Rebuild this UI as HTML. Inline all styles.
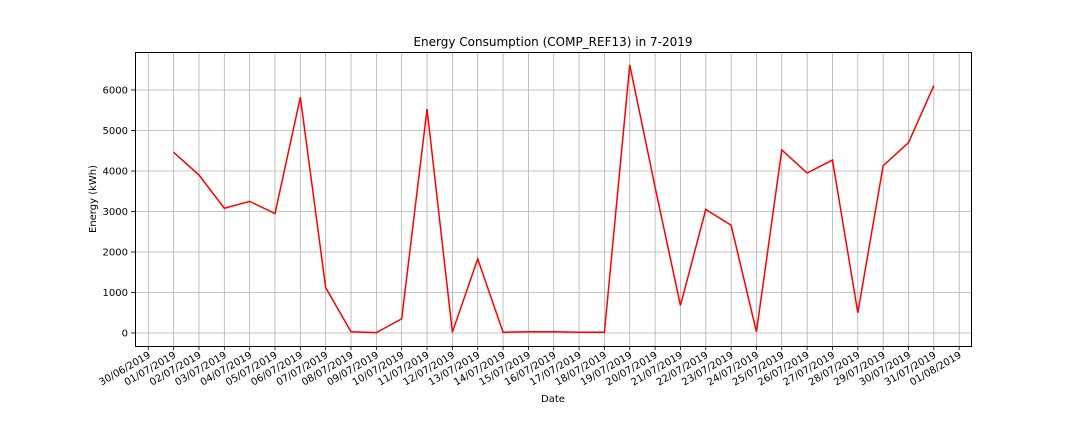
<!DOCTYPE html>
<html><head><meta charset="utf-8"><style>
body{margin:0;background:#fff;}
text{font-family:"DejaVu Sans","Liberation Sans",sans-serif;fill:#000;}
</style></head><body>
<svg id="chart" width="1080" height="432" xmlns="http://www.w3.org/2000/svg">
<text x="553" y="46" font-size="12" text-anchor="middle">Energy Consumption (COMP_REF13) in 7-2019</text>
<text x="553" y="402" font-size="10" text-anchor="middle">Date</text>
<text transform="translate(96,199) rotate(-90)" font-size="10" text-anchor="middle">Energy (kWh)</text>
<g id="grid"></g><g id="axes"></g><g id="series"></g>
<rect x="135.5" y="52.5" width="836" height="294" fill="none" stroke="#000" stroke-width="1"/>
</svg>
<script>
const days = [1,2,3,4,5,6,7,8,9,10,11,12,13,14,15,16,17,18,19,20,21,22,23,24,25,26,27,28,29,30,31];
const energy = [4460,3900,3080,3250,2950,5820,1120,30,10,350,5530,20,1830,20,30,30,20,20,6620,3600,680,3050,2660,30,4520,3950,4270,500,4130,4700,6110];
const yTicks = [0,1000,2000,3000,4000,5000,6000];
const tickDays = [0,1,2,3,4,5,6,7,8,9,10,11,12,13,14,15,16,17,18,19,20,21,22,23,24,25,26,27,28,29,30,31,32];
const NS="http://www.w3.org/2000/svg";
const x = d => 148.3 + d*25.34;
const y = v => 333 - v*0.0405;
function lbl(d){ if(d===0) return "30/06/2019"; if(d===32) return "01/08/2019"; return String(d).padStart(2,"0")+"/07/2019"; }
function mk(t,a,p){const e=document.createElementNS(NS,t);for(const k in a)e.setAttribute(k,a[k]);p.appendChild(e);return e;}
const grid=document.getElementById('grid'), axes=document.getElementById('axes'), series=document.getElementById('series');
tickDays.forEach(d=>{
  const gx=x(d);
  const l=mk('line',{x1:gx,x2:gx,y1:52,y2:346,stroke:'#b0b0b0','stroke-width':0.8},grid);
  
  
  const t=mk('line',{x1:gx,x2:gx,y1:346,y2:350,stroke:'#000','stroke-width':0.8},axes);
  
  
  const tx=mk('text',{'font-size':10,'text-anchor':'end',transform:`translate(${gx+3},${357}) rotate(-30)`},axes);
  tx.textContent=lbl(d);
  
  
});
yTicks.forEach(v=>{
  const gy=y(v);
  const l=mk('line',{x1:135,x2:972,y1:gy,y2:gy,stroke:'#b0b0b0','stroke-width':0.8},grid);
  
  
  const t=mk('line',{x1:131,x2:135,y1:gy,y2:gy,stroke:'#000','stroke-width':0.8},axes);
  
  
  const tx=mk('text',{x:128,y:gy+3.5,'font-size':10,'text-anchor':'end'},axes);
  tx.textContent=v;
  
  
});
const pts=days.map((d,i)=>x(d)+','+y(energy[i])).join(' ');
const pl=mk('polyline',{points:pts,fill:'none',stroke:'#ff0000','stroke-width':1.5},series);


</script>
</body></html>
